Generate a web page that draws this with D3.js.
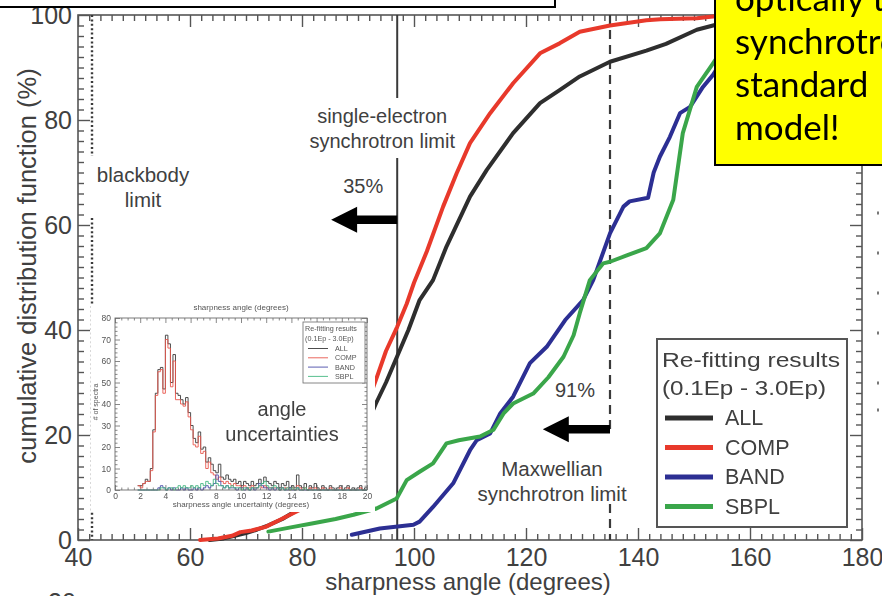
<!DOCTYPE html>
<html>
<head>
<meta charset="utf-8">
<script src="https://cdn.jsdelivr.net/npm/d3@7"></script>
<style>
  html, body { margin: 0; padding: 0; background: #fff; }
  svg { display: block; }
</style>
</head>
<body>
<svg id="chart" width="882" height="596"></svg>
<script>
// ---------- main panel: cumulative distributions of sharpness angle ----------
const xTickLabels = [40, 60, 80, 100, 120, 140, 160, 180];
const yTickLabels = [0, 20, 40, 60, 80, 100];

const seriesNames = ["ALL", "COMP", "BAND", "SBPL"];

const allAngle = [63.5, 66, 68, 70, 72, 74, 76.5, 78.5, 80.5, 84, 88, 92, 93.2, 95, 97, 99, 101, 103.4, 105.8, 110, 113, 117.7, 122.5, 126, 129.6, 135, 141.5, 145, 150.5, 153.4, 158, 163];
const allCdf   = [0, 0.3, 0.8, 1.3, 2, 2.8, 4, 5.3, 6.7, 10, 16, 23, 26, 30, 35, 40, 45.7, 49.5, 55.9, 65.4, 70.5, 77.5, 83.2, 85.7, 88.3, 91.1, 93.2, 94.5, 97.2, 98, 99.3, 100];

const compAngle = [61.8, 65, 67.5, 69, 71, 73.5, 76, 78.4, 80.5, 84, 88, 92, 93.2, 95, 97, 98.7, 100, 102.3, 105.2, 107.6, 110, 113.6, 117.7, 122.5, 126, 129.6, 135, 141.5, 144, 150.5, 153.4, 158];
const compCdf   = [0, 0.3, 0.8, 1.5, 1.8, 2.5, 3.8, 5.1, 6.2, 10, 17, 27, 30.5, 36, 40.6, 45, 49, 55, 63.5, 69.8, 75.6, 81.3, 87, 92.7, 94.6, 96.8, 98, 99, 99.2, 99.4, 99.7, 100];

const bandAngle = [88.9, 93.9, 99.9, 101, 103.4, 107, 110, 111.2, 113.6, 115.4, 117.7, 120.7, 123.7, 127, 130.2, 132, 135, 137.4, 138.5, 141.8, 142.8, 143.9, 145.7, 147.5, 149.3, 151.6, 153.4, 156, 160, 165];
const bandCdf   = [1, 2.2, 2.9, 3.5, 6.3, 10.8, 17.1, 19, 20.3, 24.1, 27.3, 33.7, 36.8, 41.9, 45.7, 49.5, 58.4, 63.5, 64.5, 65.2, 70, 73, 76.8, 81.3, 82.5, 86.3, 88.6, 93, 97, 100];

const sbplAngle = [74, 78, 82, 86, 89.2, 93.3, 96.9, 98.7, 101, 103.4, 105.8, 108, 111.8, 114.2, 116, 117.7, 121.3, 124, 126.7, 128.5, 129.6, 131.4, 133.8, 135, 138, 141.5, 143.9, 146.3, 148, 150.5, 153.4, 156, 160];
const sbplCdf   = [1.6, 2.4, 3.2, 4, 4.8, 6, 7.9, 11.4, 13, 14.6, 18.4, 19, 19.7, 21, 24.1, 26, 27.9, 31, 34.9, 39, 43.2, 49.5, 52.7, 53, 54.2, 55.6, 58.4, 64.8, 77.5, 86.3, 90.8, 95, 100];

// limits (degrees)
const blackbodyLimit = 42.5;
const singleElectronLimit = 97;
const maxwellianLimit = 135;

// annotation arrows: [tail angle, tip angle, level %]
const arrowSingle = [97, 85.2, 61];
const arrowMaxwell = [135, 123, 21.1];

// ---------- inset: histogram of angle uncertainties ----------
const binStart = 1.8, binWidth = 0.2;
const histAll  = [2,2,3,5,4,10,28,45,56,57, 47,72,68,50,63,45,44,42,40,43, 36,30,24,22,27,19,20,13,15,12, 9,8,12,6,5,7,5,4,5,3, 4,2,4,3,2,4,2,3,5,3, 6,4,3,2,4,3,1,3,2,4, 1,2,1,7,2,1,3,0,2,1, 3,1,0,2,1,0,2,1,0,1, 2,0,1,2,0,1,0,1,2,0, 1];
const histComp = [2,1,3,4,4,9,27,44,55,56, 45,70,66,48,60,42,42,40,39,41, 34,28,21,20,25,17,18,10,13,8, 7,5,6,4,3,4,3,2,3,2, 2,1,2,1,1,2,1,1,2,1, 2,1,1,1,1,1,0,1,1,1, 0,1,0,2,1,0,1,0,1,0, 1,0,0,1,0,0,1,0,0,0, 1,0,0,1,0,0,0,0,1,0, 0];
const histBand = [0,0,0,0,0,0,0,0,1,2, 1,0,1,0,1,0,0,1,0,1, 0,0,1,0,1,0,1,2,1,2, 3,7,4,2,1,2,1,1,1,0, 1,1,0,1,0,1,0,1,3,2, 1,1,0,1,0,1,0,1,0,0, 1,0,0,1,0,0,0,0,0,0, 0,0,0,0,0,0,0,0,0,0, 0,0,0,0,0,0,0,0,0,0, 0];
const histSbpl = [0,0,0,0,0,0,0,0,0,1, 1,0,1,1,0,1,2,1,2,1, 1,2,1,2,1,3,2,4,3,2, 5,3,2,2,1,2,1,2,1,1, 1,0,1,1,0,1,1,1,2,3, 4,2,1,1,2,1,0,1,0,1, 0,1,0,1,0,0,1,0,0,0, 0,0,0,0,0,0,0,0,0,0, 0,0,0,0,0,0,0,0,0,0, 0];
const insetXTickLabels = [0, 2, 4, 6, 8, 10, 12, 14, 16, 18, 20];
const insetYTickLabels = [0, 10, 20, 30, 40, 50, 60, 70, 80];

const calloutLines = ["optically thin", "synchrotron", "standard", "model!"];

// ---------- drawing ----------
const colors = { ALL: "#2e2e2e", COMP: "#e8392b", BAND: "#2c2f93", SBPL: "#3aa64a" };
const insetColors = { ALL: "#3a3a3a", COMP: "#e8574d", BAND: "#4a4ca8", SBPL: "#45b882" };
const textColor = "#404040";
const frameColor = "#555";
const font = "'Liberation Sans', Arial, Helvetica, sans-serif";

const svg = d3.select("#chart");
const x = d3.scaleLinear().domain([40, 180]).range([78, 862]);
const y = d3.scaleLinear().domain([0, 100]).range([540, 15]);
const [x0, x1] = x.range();
const [y0, y1] = y.range();

function styleAxis(g, withText, size) {
  g.select(".domain").remove();
  g.selectAll(".tick line").attr("stroke", frameColor).attr("stroke-width", 1.4);
  if (withText) {
    g.selectAll(".tick text").attr("fill", textColor).attr("font-family", font).attr("font-size", size);
  } else {
    g.selectAll(".tick text").remove();
  }
}

const xMinor = d3.range(40, 181, 2).filter(v => v % 20 !== 0);
const yMinor = d3.range(0, 101, 2).filter(v => v % 20 !== 0);

// ticks on all four sides, pointing inward
svg.append("g").attr("transform", `translate(0,${y0})`)
  .call(d3.axisBottom(x).tickValues(xTickLabels).tickSize(-12).tickPadding(8).tickFormat(d3.format("d")))
  .call(g => styleAxis(g, true, 25));
svg.append("g").attr("transform", `translate(0,${y0})`)
  .call(d3.axisBottom(x).tickValues(xMinor).tickSize(-6))
  .call(g => styleAxis(g, false));
svg.append("g").attr("transform", `translate(0,${y1})`)
  .call(d3.axisTop(x).tickValues(xTickLabels).tickSize(-12))
  .call(g => styleAxis(g, false));
svg.append("g").attr("transform", `translate(0,${y1})`)
  .call(d3.axisTop(x).tickValues(xMinor).tickSize(-6))
  .call(g => styleAxis(g, false));
svg.append("g").attr("transform", `translate(${x0},0)`)
  .call(d3.axisLeft(y).tickValues(yTickLabels).tickSize(-12).tickPadding(6).tickFormat(d3.format("d")))
  .call(g => styleAxis(g, true, 25));
svg.append("g").attr("transform", `translate(${x0},0)`)
  .call(d3.axisLeft(y).tickValues(yMinor).tickSize(-6))
  .call(g => styleAxis(g, false));
svg.append("g").attr("transform", `translate(${x1},0)`)
  .call(d3.axisRight(y).tickValues(yTickLabels).tickSize(-12))
  .call(g => styleAxis(g, false));
svg.append("g").attr("transform", `translate(${x1},0)`)
  .call(d3.axisRight(y).tickValues(yMinor).tickSize(-6))
  .call(g => styleAxis(g, false));

svg.append("rect")
  .attr("x", x0).attr("y", y1).attr("width", x1 - x0).attr("height", y0 - y1)
  .attr("fill", "none").attr("stroke", frameColor).attr("stroke-width", 1.6);

// axis titles
svg.append("text")
  .attr("x", (x0 + x1) / 2 - 2).attr("y", 590)
  .attr("text-anchor", "middle").attr("fill", textColor)
  .attr("font-family", font).attr("font-size", 24)
  .text("sharpness angle (degrees)");
svg.append("text")
  .attr("transform", "translate(36,266) rotate(-90)")
  .attr("text-anchor", "middle").attr("fill", textColor)
  .attr("font-family", font).attr("font-size", 25.5)
  .text("cumulative distribution function (%)");
// clipped label of a panel below
svg.append("text")
  .attr("x", 62).attr("y", 611).attr("text-anchor", "middle")
  .attr("fill", textColor).attr("font-family", font).attr("font-size", 25)
  .text("20");

// limit lines
const limits = svg.append("g").attr("stroke", "#3a3a3a");
[[y(100), 98], [158, y(0)]].forEach(([a, b]) => {
  limits.append("line").attr("x1", x(singleElectronLimit)).attr("x2", x(singleElectronLimit))
    .attr("y1", a).attr("y2", b).attr("stroke-width", 2);
});
[[y(100), 434], [504, y(0)]].forEach(([a, b]) => {
  limits.append("line").attr("x1", x(maxwellianLimit)).attr("x2", x(maxwellianLimit))
    .attr("y1", a).attr("y2", b).attr("stroke-width", 2.2).attr("stroke-dasharray", "9,6");
});
[[y(100), 156], [218, y(0)]].forEach(([a, b]) => {
  limits.append("line").attr("x1", x(blackbodyLimit)).attr("x2", x(blackbodyLimit))
    .attr("y1", a).attr("y2", b).attr("stroke-width", 2.4).attr("stroke-dasharray", "2,2.4");
});

// annotation text
const note = (tx, ty, s, size) => svg.append("text")
  .attr("x", tx).attr("y", ty).attr("text-anchor", "middle")
  .attr("fill", textColor).attr("font-family", font).attr("font-size", size || 20).text(s);
note(x(singleElectronLimit) - 15, 123, "single-electron");
note(x(singleElectronLimit) - 15, 148, "synchrotron limit");
note(x(singleElectronLimit) - 34, 193, "35%");
note(143, 182, "blackbody", 20.5);
note(143, 207, "limit", 20.5);
note(x(maxwellianLimit) - 35, 397, "91%");
note(x(maxwellianLimit) - 58, 476, "Maxwellian", 20.5);
note(x(maxwellianLimit) - 58, 501, "synchrotron limit", 20.5);

function arrow([tail, tip, level]) {
  const xt = x(tail), xp = x(tip), yy = y(level);
  const head = 26, half = 13, shaft = 4.2;
  const p = d3.path();
  p.moveTo(xp, yy);
  p.lineTo(xp + head, yy - half);
  p.lineTo(xp + head, yy - shaft);
  p.lineTo(xt, yy - shaft);
  p.lineTo(xt, yy + shaft);
  p.lineTo(xp + head, yy + shaft);
  p.lineTo(xp + head, yy + half);
  p.closePath();
  svg.append("path").attr("d", p.toString()).attr("fill", "#000");
}
arrow(arrowSingle);
arrow(arrowMaxwell);

// cumulative distribution curves
const series = [
  { name: "ALL", xs: allAngle, ys: allCdf },
  { name: "COMP", xs: compAngle, ys: compCdf },
  { name: "BAND", xs: bandAngle, ys: bandCdf },
  { name: "SBPL", xs: sbplAngle, ys: sbplCdf }
];
const line = d3.line().x(d => x(d[0])).y(d => y(d[1]));
series.forEach(s => {
  svg.append("path")
    .attr("d", line(s.xs.map((v, i) => [v, s.ys[i]])))
    .attr("fill", "none").attr("stroke", colors[s.name])
    .attr("stroke-width", 4).attr("stroke-linejoin", "round").attr("stroke-linecap", "round");
});

// ---------- inset ----------
const defs = svg.append("defs");
defs.append("clipPath").attr("id", "insetClip")
  .append("rect").attr("x", 91).attr("y", 305).attr("width", 284).attr("height", 207);
defs.append("filter").attr("id", "soft")
  .append("feGaussianBlur").attr("stdDeviation", 0.35);

const inset = svg.append("g").attr("clip-path", "url(#insetClip)");
inset.append("rect").attr("x", 91).attr("y", 305).attr("width", 284).attr("height", 207).attr("fill", "#fff");
const ig = inset.append("g").attr("filter", "url(#soft)");

const ix = d3.scaleLinear().domain([0, 20]).range([115, 367]);
const iy = d3.scaleLinear().domain([0, 80]).range([490, 318]);
const [ix0, ix1] = ix.range();
const [iy0, iy1] = iy.range();
const insetFrame = "#6a6a6a";
const insetText = "#555";
const iFont = font;

function styleInset(g, withText) {
  g.select(".domain").remove();
  g.selectAll(".tick line").attr("stroke", insetFrame).attr("stroke-width", 0.8);
  if (withText) g.selectAll(".tick text").attr("fill", insetText).attr("font-family", iFont).attr("font-size", 8.5);
  else g.selectAll(".tick text").remove();
}
const ixMinor = d3.range(0, 20.01, 0.5).filter(v => v % 2 !== 0);
const iyMinor = d3.range(0, 80.01, 2).filter(v => v % 10 !== 0);

ig.append("g").attr("transform", `translate(0,${iy0})`)
  .call(d3.axisBottom(ix).tickValues(insetXTickLabels).tickSize(-5).tickPadding(3).tickFormat(d3.format("d")))
  .call(g => styleInset(g, true));
ig.append("g").attr("transform", `translate(0,${iy0})`)
  .call(d3.axisBottom(ix).tickValues(ixMinor).tickSize(-2.5)).call(g => styleInset(g, false));
ig.append("g").attr("transform", `translate(0,${iy1})`)
  .call(d3.axisTop(ix).tickValues(insetXTickLabels).tickSize(-5)).call(g => styleInset(g, false));
ig.append("g").attr("transform", `translate(0,${iy1})`)
  .call(d3.axisTop(ix).tickValues(ixMinor).tickSize(-2.5)).call(g => styleInset(g, false));
ig.append("g").attr("transform", `translate(${ix0},0)`)
  .call(d3.axisLeft(iy).tickValues(insetYTickLabels).tickSize(-5).tickPadding(4).tickFormat(d3.format("d")))
  .call(g => styleInset(g, true));
ig.append("g").attr("transform", `translate(${ix0},0)`)
  .call(d3.axisLeft(iy).tickValues(iyMinor).tickSize(-2.5)).call(g => styleInset(g, false));
ig.append("g").attr("transform", `translate(${ix1},0)`)
  .call(d3.axisRight(iy).tickValues(insetYTickLabels).tickSize(-5)).call(g => styleInset(g, false));
ig.append("g").attr("transform", `translate(${ix1},0)`)
  .call(d3.axisRight(iy).tickValues(iyMinor).tickSize(-2.5)).call(g => styleInset(g, false));

const hists = [
  { name: "ALL", v: histAll },
  { name: "COMP", v: histComp },
  { name: "BAND", v: histBand },
  { name: "SBPL", v: histSbpl }
];
const stepLine = d3.line().curve(d3.curveStepAfter).x(d => ix(d[0])).y(d => iy(d[1]));
hists.forEach(h => {
  const pts = h.v.map((c, i) => [binStart + i * binWidth, c]);
  pts.push([binStart + h.v.length * binWidth, h.v[h.v.length - 1]]);
  ig.append("path").attr("d", stepLine(pts))
    .attr("fill", "none").attr("stroke", insetColors[h.name]).attr("stroke-width", 0.9);
});

ig.append("rect").attr("x", ix0).attr("y", iy1).attr("width", ix1 - ix0).attr("height", iy0 - iy1)
  .attr("fill", "none").attr("stroke", insetFrame).attr("stroke-width", 0.9);

ig.append("text").attr("x", (ix0 + ix1) / 2).attr("y", 507).attr("text-anchor", "middle")
  .attr("fill", insetText).attr("font-family", iFont).attr("font-size", 8)
  .text("sharpness angle uncertainty (degrees)");
ig.append("text").attr("x", (ix0 + ix1) / 2).attr("y", 310).attr("text-anchor", "middle")
  .attr("fill", insetText).attr("font-family", iFont).attr("font-size", 8)
  .text("sharpness angle (degrees)");
ig.append("text").attr("transform", "translate(98,402) rotate(-90)").attr("text-anchor", "middle")
  .attr("fill", insetText).attr("font-family", iFont).attr("font-size", 7)
  .text("# of spectra");

// inset legend
const il = ig.append("g");
il.append("rect").attr("x", 303).attr("y", 322).attr("width", 62).attr("height", 61)
  .attr("fill", "#fff").attr("stroke", insetFrame).attr("stroke-width", 0.8);
il.append("text").attr("x", 305).attr("y", 331).attr("fill", insetText).attr("font-family", iFont).attr("font-size", 7.2).text("Re-fitting results");
il.append("text").attr("x", 305).attr("y", 341).attr("fill", insetText).attr("font-family", iFont).attr("font-size", 7.2).text("(0.1Ep - 3.0Ep)");
seriesNames.forEach((n, i) => {
  const yy = 351 + i * 9.3;
  il.append("line").attr("x1", 308).attr("x2", 328).attr("y1", yy - 2.5).attr("y2", yy - 2.5)
    .attr("stroke", insetColors[n]).attr("stroke-width", 0.9);
  il.append("text").attr("x", 335).attr("y", yy).attr("fill", insetText)
    .attr("font-family", iFont).attr("font-size", 7.2).text(n);
});

inset.append("text").attr("x", 282).attr("y", 416).attr("text-anchor", "middle")
  .attr("fill", textColor).attr("font-family", font).attr("font-size", 20).text("angle");
inset.append("text").attr("x", 282).attr("y", 441).attr("text-anchor", "middle")
  .attr("fill", textColor).attr("font-family", font).attr("font-size", 20).text("uncertainties");

// ---------- main legend ----------
const lg = svg.append("g");
lg.append("rect").attr("x", 657).attr("y", 339).attr("width", 190).attr("height", 188)
  .attr("fill", "#fff").attr("stroke", frameColor).attr("stroke-width", 2);
lg.append("text").attr("x", 662).attr("y", 367).attr("fill", textColor).attr("font-family", font)
  .attr("font-size", 20.5).attr("textLength", 178).attr("lengthAdjust", "spacingAndGlyphs").text("Re-fitting results");
lg.append("text").attr("x", 662).attr("y", 395).attr("fill", textColor).attr("font-family", font)
  .attr("font-size", 20.5).attr("textLength", 164).attr("lengthAdjust", "spacingAndGlyphs").text("(0.1Ep - 3.0Ep)");
seriesNames.forEach((n, i) => {
  const yy = 425 + i * 29.5;
  lg.append("line").attr("x1", 665).attr("x2", 713).attr("y1", yy - 7).attr("y2", yy - 7)
    .attr("stroke", colors[n]).attr("stroke-width", 5);
  lg.append("text").attr("x", 725).attr("y", yy).attr("fill", textColor)
    .attr("font-family", font).attr("font-size", 21.5).text(n);
});

// small marks at the right edge
[213, 253, 293, 333, 383, 410].forEach(v => {
  svg.append("rect").attr("x", 877).attr("y", v - 1.5).attr("width", 2).attr("height", 3).attr("fill", "#777");
});

// ---------- overlaid boxes ----------
svg.append("rect").attr("x", -3).attr("y", -3).attr("width", 558).attr("height", 10)
  .attr("fill", "#fff").attr("stroke", "#000").attr("stroke-width", 2);

const cb = svg.append("g");
cb.append("rect").attr("x", 715).attr("y", -3).attr("width", 172).attr("height", 168)
  .attr("fill", "#ffff00").attr("stroke", "#000").attr("stroke-width", 2);
calloutLines.forEach((s, i) => {
  cb.append("text").attr("x", 735).attr("y", 11 + i * 43)
    .attr("fill", "#000").attr("font-family", "Lato, 'Open Sans', sans-serif").attr("font-size", 35)
    .text(s);
});
</script>
</body>
</html>
